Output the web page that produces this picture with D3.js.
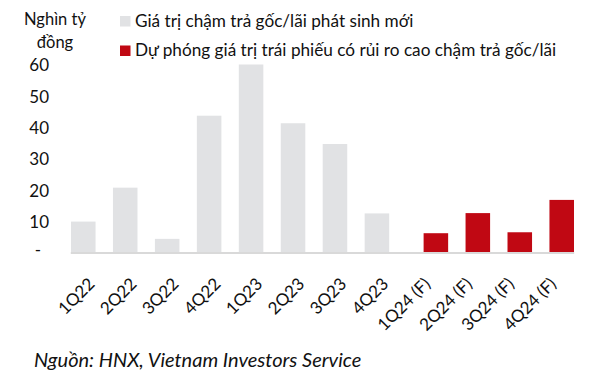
<!DOCTYPE html>
<html>
<head>
<meta charset="utf-8">
<script src="https://cdn.jsdelivr.net/npm/d3@7/dist/d3.min.js"></script>
<style>
  html, body { margin: 0; padding: 0; background: #fff; }
  svg { display: block; font-family: Lato, "Open Sans", sans-serif; }
</style>
</head>
<body>
<svg id="chart" width="600" height="384"></svg>
<script>
const categories = ['1Q22','2Q22','3Q22','4Q22','1Q23','2Q23','3Q23','4Q23','1Q24 (F)','2Q24 (F)','3Q24 (F)','4Q24 (F)'];
const seriesNames = ['Giá trị chậm trả gốc/lãi phát sinh mới', 'Dự phóng giá trị trái phiếu có rủi ro cao chậm trả gốc/lãi'];
const actualValues   = [10, 20.8, 4.5, 43.7, 60, 41.3, 34.7, 12.6, null, null, null, null];
const forecastValues = [null, null, null, null, null, null, null, null, 6.3, 12.7, 6.6, 16.9];
const yTicks = [0, 10, 20, 30, 40, 50, 60];
const yUnitLines = ['Nghìn tỷ', 'đồng'];
const sourceText = 'Nguồn: HNX, Vietnam Investors Service';

const colors = ['#e1e2e4', '#c00813'];
const textColor = '#111';

const svg = d3.select('#chart');

const x = d3.scaleBand().domain(categories).range([70.8, 574.2]).padding(0);
const x1 = d3.scalePoint().domain([0, 1]).range([-8.5, 8.5]);
const barW = x.bandwidth() * 0.585;
const y = d3.scaleLinear().domain([0, 60]).range([253, 64.5]);

// bars
const seriesData = [actualValues, forecastValues];
seriesData.forEach((vals, si) => {
  svg.append('g').selectAll('rect')
    .data(categories.map((c, i) => ({ c, v: vals[i] })).filter(d => d.v != null))
    .join('rect')
    .attr('x', d => x(d.c) + x.bandwidth() / 2 + x1(si) - barW / 2)
    .attr('y', d => y(d.v))
    .attr('width', barW)
    .attr('height', d => y(0) - y(d.v))
    .attr('fill', colors[si]);
});

// baseline
svg.append('line')
  .attr('x1', x.range()[0]).attr('x2', x.range()[1])
  .attr('y1', y(0)).attr('y2', y(0))
  .attr('stroke', '#d9d9d9').attr('stroke-width', 2);

// y axis
const yAxis = svg.append('g')
  .attr('transform', 'translate(49,0)')
  .call(d3.axisLeft(y).tickValues(yTicks).tickSize(0).tickPadding(0)
    .tickFormat(d => d === 0 ? '-' : d3.format('d')(d)));
yAxis.select('.domain').remove();
yAxis.selectAll('text')
  .attr('font-family', 'Lato, sans-serif')
  .attr('font-size', 17)
  .attr('fill', textColor)
  .attr('dy', '0.36em');
yAxis.selectAll('.tick').filter(d => d === 0).select('text')
  .attr('text-anchor', 'middle').attr('x', -11).attr('dy', '0.15em');

// x axis labels
const xAxis = svg.append('g')
  .attr('transform', `translate(0,${y(0)})`)
  .call(d3.axisBottom(x).tickSize(0).tickPadding(0));
xAxis.select('.domain').remove();
xAxis.selectAll('text')
  .attr('font-family', 'Lato, sans-serif')
  .attr('font-size', 17)
  .attr('fill', textColor)
  .attr('text-anchor', 'end')
  .attr('dy', 0)
  .attr('y', 0)
  .attr('transform', 'translate(4,32) rotate(-45)');

// unit label
svg.append('g').selectAll('text')
  .data(yUnitLines)
  .join('text')
  .attr('x', 55)
  .attr('y', (d, i) => 24.5 + i * 23)
  .attr('text-anchor', 'middle')
  .attr('font-size', 16.5)
  .attr('fill', textColor)
  .text(d => d);

// legend
const legend = svg.append('g');
seriesNames.forEach((name, i) => {
  const ly = 26.5 + i * 29.5;
  legend.append('rect')
    .attr('x', 120).attr('y', ly - 10.5)
    .attr('width', 10.5).attr('height', 10.5)
    .attr('fill', colors[i]);
  legend.append('text')
    .attr('x', 135).attr('y', ly)
    .attr('font-size', 17.2)
    .attr('fill', textColor)
    .text(name);
});

// source
svg.append('text')
  .attr('x', 34).attr('y', 367)
  .attr('font-size', 20)
  .attr('font-style', 'italic')
  .attr('fill', textColor)
  .text(sourceText);
</script>
</body>
</html>
